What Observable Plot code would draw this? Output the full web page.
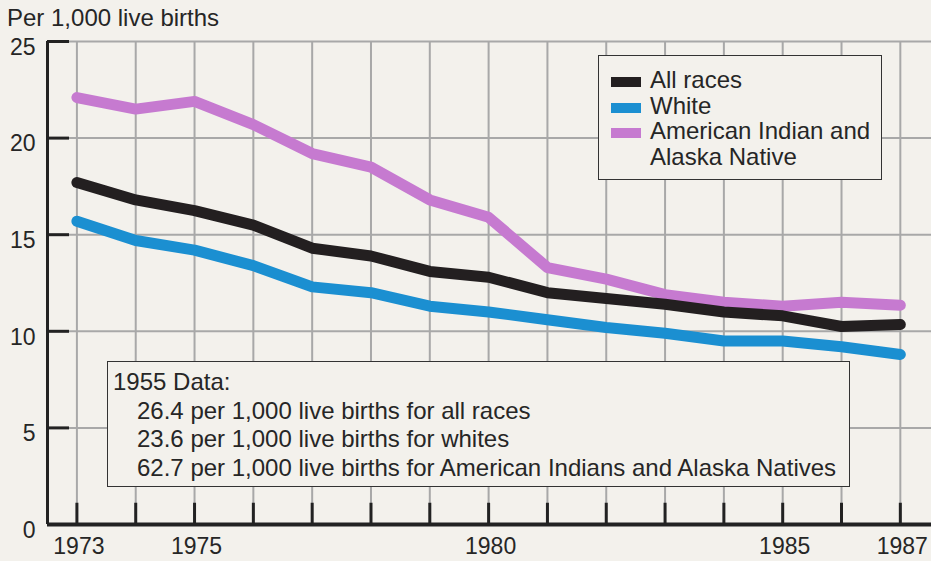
<!DOCTYPE html>
<html>
<head>
<meta charset="utf-8">
<script src="https://cdn.jsdelivr.net/npm/d3@7"></script>
<script src="https://cdn.jsdelivr.net/npm/@observablehq/plot@0.6"></script>
<style>
  html, body { margin: 0; padding: 0; background: #f3f1ec; }
  #wrap { position: relative; width: 931px; height: 561px; overflow: hidden; font-family: "Liberation Sans", Arial, Helvetica, sans-serif; color: #262626; }
  #wrap svg { position: absolute; left: 0; top: 0; }
  .ov { position: absolute; white-space: nowrap; }
  .box { position: absolute; background: #f3f1ec; border: 1.5px solid #333; box-sizing: border-box; }
</style>
</head>
<body>
<div id="wrap"></div>
<script>
// ---- data ----
const years = [1973, 1974, 1975, 1976, 1977, 1978, 1979, 1980, 1981, 1982, 1983, 1984, 1985, 1986, 1987];
const allRaces = [17.7, 16.8, 16.25, 15.5, 14.3, 13.9, 13.1, 12.8, 12.0, 11.7, 11.4, 11.0, 10.8, 10.25, 10.35];
const white = [15.7, 14.7, 14.2, 13.4, 12.3, 12.0, 11.3, 11.0, 10.6, 10.2, 9.9, 9.5, 9.5, 9.2, 8.8];
const aian = [22.1, 21.5, 21.9, 20.7, 19.2, 18.5, 16.8, 15.9, 13.3, 12.7, 11.9, 11.5, 11.3, 11.5, 11.35];
const seriesNames = ["All races", "White", "American Indian and Alaska Native"];
const seriesColors = ["#231f20", "#1b8fd1", "#c67ad0"];
const yTicks = [0, 5, 10, 15, 20, 25];
const xLabels = [1973, 1975, 1980, 1985, 1987];
const title = "Per 1,000 live births";
const legendLines = [["All races"], ["White"], ["American Indian and", "Alaska Native"]];
const noteLines = [
  "1955 Data:",
  "26.4 per 1,000 live births for all races",
  "23.6 per 1,000 live births for whites",
  "62.7 per 1,000 live births for American Indians and Alaska Natives"
];

const rows = [];
[allRaces, white, aian].forEach((vals, i) => {
  years.forEach((yr, j) => rows.push({series: seriesNames[i], year: yr, value: vals[j]}));
});
const drawOrder = [seriesNames[2], seriesNames[0], seriesNames[1]];
rows.sort((a, b) => drawOrder.indexOf(a.series) - drawOrder.indexOf(b.series));

const x0 = 1972.5, x1 = 1987.53;
const pxPerYear = (931 - 47) / (x1 - x0);

const chart = Plot.plot({
  width: 931,
  height: 561,
  marginLeft: 47,
  marginRight: 0,
  marginTop: 41,
  marginBottom: 37,
  style: { background: "transparent", fontFamily: "'Liberation Sans', Arial, Helvetica, sans-serif", color: "#262626" },
  x: { domain: [x0, x1], axis: null, label: null },
  y: { domain: [0, 25], axis: null, label: null },
  color: { domain: seriesNames, range: seriesColors },
  marks: [
    Plot.ruleX(years, { stroke: "#a8a8a8", strokeWidth: 2 }),
    Plot.ruleY(yTicks.filter(d => d > 0), { stroke: "#a8a8a8", strokeWidth: 2 }),
    Plot.ruleY(yTicks, { x1: x0, x2: x0 + 22 / pxPerYear, stroke: "#222", strokeWidth: 3 }),
    Plot.ruleX(years, { y1: 0, y2: 1.1, stroke: "#222", strokeWidth: 3 }),
    Plot.ruleX([x0], { stroke: "#222", strokeWidth: 3 }),
    Plot.ruleY([0], { stroke: "#222", strokeWidth: 4 }),
    Plot.line(rows, { x: "year", y: "value", z: "series", stroke: "series", strokeWidth: 11, strokeLinecap: "round", strokeLinejoin: "round" }),
    Plot.axisY({ ticks: yTicks, label: null, tickSize: 0, tickPadding: 12, fontSize: 23, dy: 6, tickFormat: d => String(d) }),
    Plot.axisX({ ticks: xLabels, label: null, tickSize: 0, tickPadding: 13, fontSize: 23, dx: 2, tickFormat: d => String(d) })
  ]
});
const wrap = document.getElementById("wrap");
wrap.appendChild(chart);

// title
const t = document.createElement("div");
t.className = "ov";
t.textContent = title;
Object.assign(t.style, { left: "7px", top: "4px", fontSize: "24px", lineHeight: "28px" });
wrap.appendChild(t);

// legend
const lg = document.createElement("div");
lg.className = "box";
Object.assign(lg.style, { left: "598px", top: "55px", width: "284px", height: "125px" });
wrap.appendChild(lg);
const lineH = 25.5;
let row = 0;
legendLines.forEach((lines, i) => {
  const sw = document.createElement("div");
  sw.className = "ov";
  Object.assign(sw.style, { left: "12px", top: (21 + row * lineH) + "px", width: "30px", height: "10px", background: seriesColors[i] });
  lg.appendChild(sw);
  lines.forEach(l => {
    const tx = document.createElement("div");
    tx.className = "ov";
    tx.textContent = l;
    Object.assign(tx.style, { left: "51px", top: (11 + row * lineH) + "px", fontSize: "24px", lineHeight: "26px" });
    lg.appendChild(tx);
    row++;
  });
});

// 1955 note box
const nb = document.createElement("div");
nb.className = "box";
Object.assign(nb.style, { left: "107px", top: "361px", width: "743px", height: "126px" });
wrap.appendChild(nb);
noteLines.forEach((l, i) => {
  const tx = document.createElement("div");
  tx.className = "ov";
  tx.textContent = l;
  Object.assign(tx.style, { left: (i === 0 ? 5 : 29) + "px", top: (7 + i * 28.7) + "px", fontSize: "24px", lineHeight: "26px" });
  nb.appendChild(tx);
});
</script>
</body>
</html>
